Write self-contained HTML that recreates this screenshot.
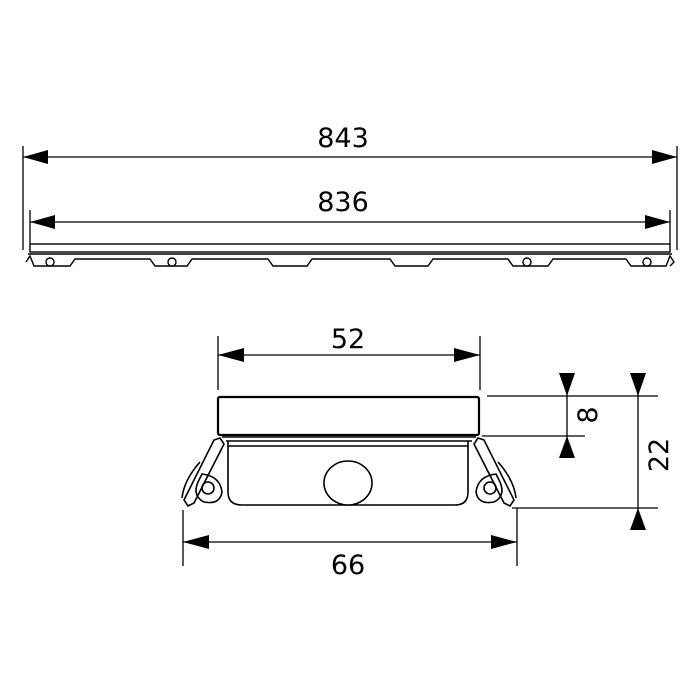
<!DOCTYPE html>
<html><head><meta charset="utf-8"><style>
html,body{margin:0;padding:0;background:#fff;}
svg{display:block;}
text{font-family:"DejaVu Sans","Liberation Sans",sans-serif;font-size:27px;fill:#000;}
</style></head><body>
<svg width="700" height="700" viewBox="0 0 700 700" xmlns="http://www.w3.org/2000/svg">
<g stroke="#000" fill="none" stroke-width="1.3">
 <!-- top drawing extension lines -->
 <line x1="23" y1="146" x2="23" y2="250"/>
 <line x1="677" y1="146" x2="677" y2="250"/>
 <line x1="30" y1="210" x2="30" y2="244"/>
 <line x1="670" y1="210" x2="670" y2="244"/>
 <line x1="23" y1="157" x2="677" y2="157"/>
 <line x1="30" y1="222" x2="670" y2="222"/>
</g>
<g fill="#000">
 <polygon points="23,157 48,150 48,164"/>
 <polygon points="677,157 652,150 652,164"/>
 <polygon points="30,222 55,215 55,229"/>
 <polygon points="670,222 645,215 645,229"/>
</g>
<text x="343" y="147" text-anchor="middle">843</text>
<text x="343" y="211" text-anchor="middle">836</text>
<!-- bar -->
<g stroke="#000" fill="none" stroke-width="1.4">
 <rect x="30" y="244" width="640" height="8" fill="#fff"/>
 <line x1="28" y1="254" x2="672" y2="254"/>
 <path d="M26,262 L30,256 L34,266 L70,266 L75,259 L150,259 L155,266 L187,266 L192,259 L268,259 L273,266 L307,266 L312,259 L390,259 L395,266 L428,266 L433,259 L508,259 L513,266 L548,266 L553,259 L626,259 L631,266 L666,266 L670,256 L674,262 L670,266"/>
 <circle cx="50" cy="262" r="4" fill="#fff"/>
 <circle cx="172" cy="262" r="4" fill="#fff"/>
 <circle cx="527" cy="262" r="4" fill="#fff"/>
 <circle cx="647" cy="262" r="4" fill="#fff"/>
</g>
<!-- bottom drawing -->
<g stroke="#000" fill="none" stroke-width="1.3">
 <line x1="218" y1="336" x2="218" y2="390"/>
 <line x1="480" y1="336" x2="480" y2="390"/>
 <line x1="218" y1="355" x2="480" y2="355"/>
 <line x1="183" y1="510" x2="183" y2="566"/>
 <line x1="517" y1="508" x2="517" y2="566"/>
 <line x1="183" y1="542" x2="517" y2="542"/>
 <line x1="487" y1="396" x2="658" y2="396"/>
 <line x1="482" y1="436" x2="585" y2="436"/>
 <line x1="512" y1="508" x2="658" y2="508"/>
 <line x1="567" y1="373" x2="567" y2="458"/>
 <line x1="638" y1="373" x2="638" y2="530"/>
</g>
<g fill="#000">
 <polygon points="218,355 244,348 244,362"/>
 <polygon points="480,355 454,348 454,362"/>
 <polygon points="183,542 209,535 209,549"/>
 <polygon points="517,542 491,535 491,549"/>
 <polygon points="567,396 559,373 575,373"/>
 <polygon points="567,436 559,458 575,458"/>
 <polygon points="638,396 630,373 646,373"/>
 <polygon points="638,508 630,530 646,530"/>
</g>
<text x="348" y="348" text-anchor="middle">52</text>
<text x="348" y="574" text-anchor="middle">66</text>
<text transform="translate(597,415) rotate(-90)" text-anchor="middle">8</text>
<text transform="translate(668,455) rotate(-90)" text-anchor="middle">22</text>
<g stroke="#000" fill="none" stroke-width="1.6">
 <rect x="218" y="397" width="261" height="38" rx="2" stroke-width="2.2"/>
 <line x1="222" y1="437" x2="476" y2="437"/>
 <line x1="226" y1="441" x2="472" y2="441"/>
 <line x1="228" y1="446" x2="468" y2="446"/>
 <path d="M228,441 L228,492 Q228,505 242,505 L455,505 Q468,505 468,492 L468,441"/>
 <ellipse cx="348" cy="483" rx="24" ry="22" fill="#fff"/>
 <!-- left wing -->
 <path d="M220,438 L214,440 L184,500 L188,506 L194,503 L224,444 Z"/>
 <path d="M200,462 Q184,480 182,498"/>
 <path d="M202,474 Q220,476 222,492 Q220,505 204,502 Q192,496 198,482 Z"/>
 <circle cx="208" cy="488" r="6"/>
 <!-- right wing -->
 <path d="M478,438 L484,440 L514,500 L510,506 L504,503 L474,444 Z"/>
 <path d="M498,462 Q514,480 516,498"/>
 <path d="M496,474 Q478,476 476,492 Q478,505 494,502 Q506,496 500,482 Z"/>
 <circle cx="490" cy="488" r="6"/>
</g>
</svg>
</body></html>
